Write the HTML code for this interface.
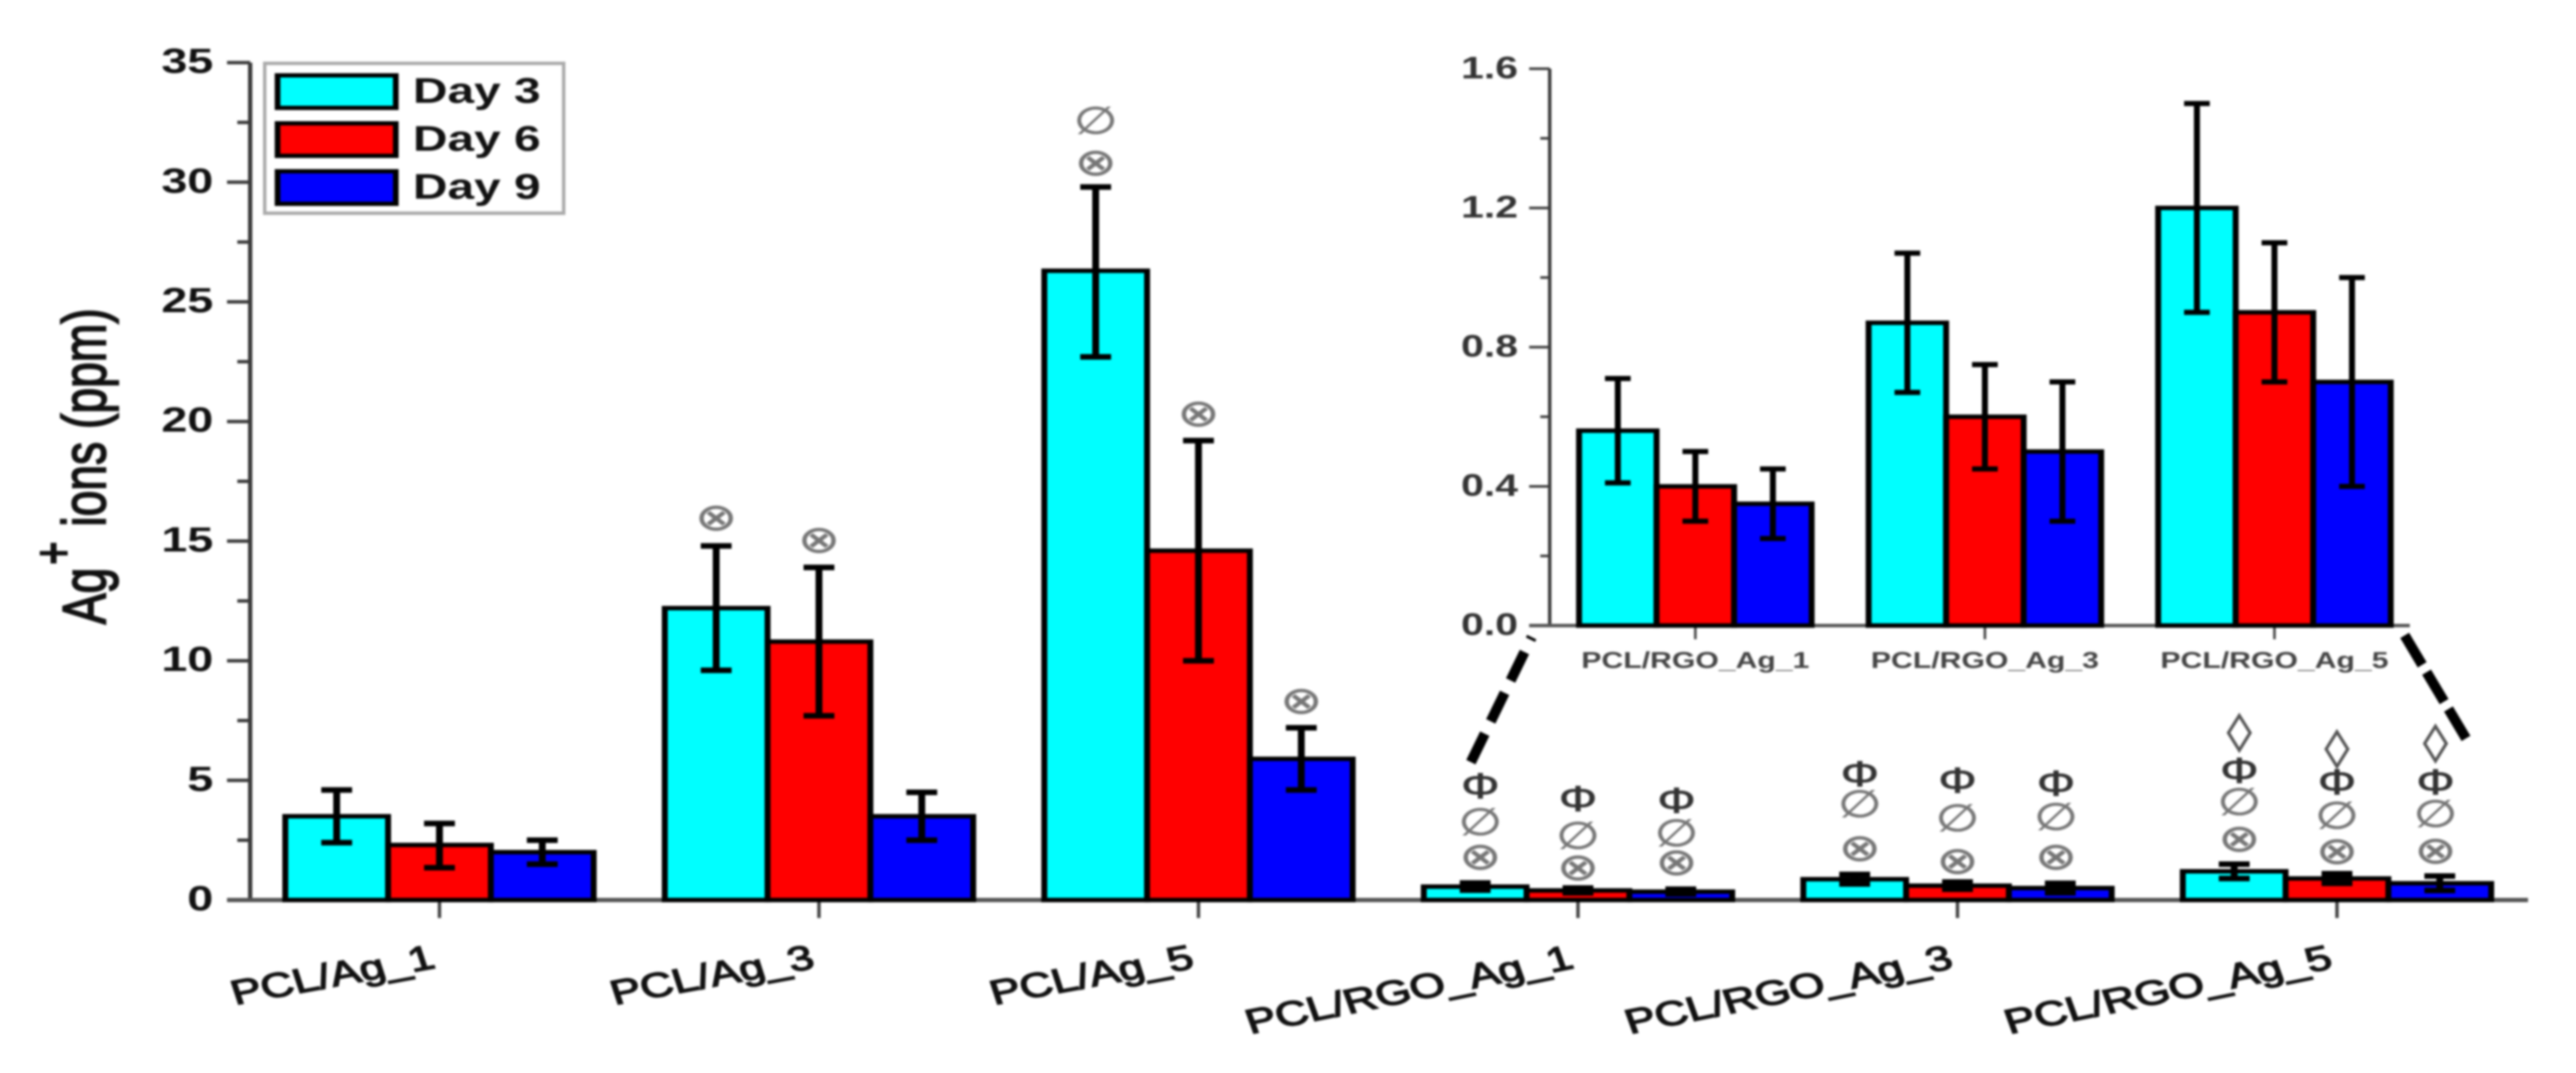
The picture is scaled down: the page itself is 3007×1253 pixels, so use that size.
<!DOCTYPE html>
<html lang="en">
<head>
<meta charset="utf-8">
<title>Ag+ ion release chart</title>
<style>
  html, body { margin: 0; padding: 0; background: #fff; }
  #chart { display: block; width: 3007px; height: 1253px; filter: blur(1.2px); }
  text { font-family: "Liberation Sans", Arial, sans-serif; }
</style>
</head>
<body>
<svg id="chart" xmlns="http://www.w3.org/2000/svg" width="3007" height="1253" viewBox="0 0 3007 1253"></svg>
<script>
// ---------- Data ----------
const seriesNames = ['Day 3', 'Day 6', 'Day 9'];
const seriesColors = ['#00ffff', '#ff0000', '#0000ff'];

const mainCategories = ['PCL/Ag_1', 'PCL/Ag_3', 'PCL/Ag_5', 'PCL/RGO_Ag_1', 'PCL/RGO_Ag_3', 'PCL/RGO_Ag_5'];
const day3Values = [3.5, 12.2, 26.3, 0.56, 0.87, 1.2];
const day6Values = [2.3, 10.8, 14.6, 0.4, 0.6, 0.9];
const day9Values = [2.0, 3.5, 5.9, 0.35, 0.5, 0.7];
const day3Upper = [4.6, 14.8, 29.8, 0.71, 1.07, 1.5];
const day3Lower = [2.4, 9.6, 22.7, 0.41, 0.67, 0.9];
const day6Upper = [3.2, 13.9, 19.2, 0.5, 0.75, 1.1];
const day6Lower = [1.35, 7.7, 10.0, 0.3, 0.45, 0.7];
const day9Upper = [2.5, 4.5, 7.2, 0.45, 0.7, 1.0];
const day9Lower = [1.5, 2.5, 4.6, 0.25, 0.3, 0.4];

const mainTickLabels = ['0', '5', '10', '15', '20', '25', '30', '35'];
const mainTickValues = [0, 5, 10, 15, 20, 25, 30, 35];
const mainMinorValues = [2.5, 7.5, 12.5, 17.5, 22.5, 27.5, 32.5];

const insetCategories = ['PCL/RGO_Ag_1', 'PCL/RGO_Ag_3', 'PCL/RGO_Ag_5'];
const insetDay3 = [0.56, 0.87, 1.2];
const insetDay6 = [0.4, 0.6, 0.9];
const insetDay9 = [0.35, 0.5, 0.7];
const insetDay3Upper = [0.71, 1.07, 1.5];
const insetDay3Lower = [0.41, 0.67, 0.9];
const insetDay6Upper = [0.5, 0.75, 1.1];
const insetDay6Lower = [0.3, 0.45, 0.7];
const insetDay9Upper = [0.45, 0.7, 1.0];
const insetDay9Lower = [0.25, 0.3, 0.4];
const insetTickLabels = ['0.0', '0.4', '0.8', '1.2', '1.6'];
const insetTickValues = [0, 0.4, 0.8, 1.2, 1.6];
const insetMinorValues = [0.2, 0.6, 1.0, 1.4];

// Significance symbols, with the ppm level each sits at: [group][series] -> per-symbol level
const sigSymbols = ['\u2297', '\u2205', '\u03A6', '\u25CA'];
const sigNames = ['otimes', 'empty-set', 'phi', 'diamond'];
const sigLevels = [
  [[], [], []],
  [[16.03], [15.1], []],
  [[30.87, 32.6], [20.37], [8.37]],
  [[1.86, 3.29, 4.8], [1.4, 2.72, 4.26], [1.63, 2.83, 4.19]],
  [[2.22, 4.04, 5.3], [1.68, 3.44, 5.03], [1.86, 3.51, 4.9]],
  [[2.61, 4.12, 5.44, 7.09], [2.09, 3.56, 4.96, 6.41], [2.11, 3.63, 4.97, 6.66]]
];

// ---------- Helpers ----------
const svg = document.getElementById('chart');
const NS = 'http://www.w3.org/2000/svg';
const STRETCH = 1.33;

function make(tag, attrs, name, parent) {
  const el = document.createElementNS(NS, tag);
  for (const k in attrs) el.setAttribute(k, attrs[k]);
  
  
  (parent || svg).appendChild(el);
  return el;
}
function line(x1, y1, x2, y2, color, width, name, parent, extra) {
  return make('line', Object.assign({ x1, y1, x2, y2, stroke: color, 'stroke-width': width }, extra || {}), name, parent);
}
// A box whose outline is wider on vertical edges than horizontal ones, as in the stretched figure
function box(x, y, w, h, fill, strokeW, name, parent) {
  return make('rect', {
    x: x / STRETCH, y: y, width: w / STRETCH, height: h,
    transform: 'scale(' + STRETCH + ' 1)',
    fill: fill, stroke: '#000', 'stroke-width': strokeW
  }, name, parent);
}
function label(str, x, y, size, name, parent, o) {
  o = o || {};
  const t = make('text', {
    transform: 'translate(' + x + ' ' + y + ') scale(' + STRETCH + ' 1) rotate(' + (o.rot || 0) + ')',
    'font-size': size,
    'font-weight': o.weight || 'bold',
    'text-anchor': o.anchor || 'start',
    fill: o.fill || '#111'
  }, name, parent);
  if (o.family) t.setAttribute('style', 'font-family:' + o.family);
  if (o.stroke) {
    t.setAttribute('stroke', o.fill || '#111');
    t.setAttribute('stroke-width', o.stroke);
  }
  t.textContent = str;
  return t;
}

function drawPanel(cfg) {
  const g = make('g', {}, cfg.name);
  const axisG = make('g', {}, cfg.name + '-axes', g);
  // Y axis
  line(cfg.axisX, cfg.y(cfg.yMax), cfg.axisX, cfg.y(0), '#3a3a3a', cfg.axisW, cfg.name + '-y-axis-line', axisG);
  cfg.tickValues.forEach(function (v, i) {
    line(cfg.axisX - cfg.majorLen, cfg.y(v), cfg.axisX, cfg.y(v), '#3a3a3a', cfg.axisW - 1, cfg.name + '-y-tick', axisG);
    label(cfg.tickLabels[i], cfg.labelX, cfg.y(v) + cfg.labelDy, cfg.labelSize, cfg.name + '-y-tick-label', axisG, { anchor: 'end', fill: cfg.labelFill });
  });
  cfg.minorValues.forEach(function (v) {
    line(cfg.axisX - cfg.minorLen, cfg.y(v), cfg.axisX, cfg.y(v), '#3a3a3a', cfg.axisW - 1, cfg.name + '-y-minor-tick', axisG);
  });
  // X axis
  line(cfg.axisX - cfg.majorLen, cfg.y(0), cfg.axisEnd, cfg.y(0), '#555', cfg.axisW, cfg.name + '-x-axis-line', axisG);
  cfg.categories.forEach(function (c, i) {
    line(cfg.center(i), cfg.y(0), cfg.center(i), cfg.y(0) + cfg.xTickLen, '#444', cfg.axisW - 1, cfg.name + '-x-tick', axisG);
    cfg.xLabel(c, i, axisG);
  });
  // Bars
  cfg.values.forEach(function (vals, s) {
    vals.forEach(function (v, i) {
      const x = cfg.center(i) + (s - 1.5) * cfg.barW;
      box(x, cfg.y(v), cfg.barW, cfg.y(0) - cfg.y(v), seriesColors[s], cfg.barStroke,
        cfg.name + '-bar-' + seriesNames[s].toLowerCase().replace(' ', '') + '-' + i, g);
    });
  });
  // Error bars
  cfg.values.forEach(function (vals, s) {
    vals.forEach(function (v, i) {
      const cx = cfg.center(i) + (s - 1) * cfg.barW;
      const yu = cfg.y(cfg.upper[s][i]);
      const yl = cfg.y(cfg.lower[s][i]);
      line(cx, yu, cx, yl, '#000', cfg.errW, cfg.name + '-error-stem', g);
      line(cx - cfg.capW / 2, yu, cx + cfg.capW / 2, yu, '#000', cfg.capT, cfg.name + '-error-cap-upper', g);
      line(cx - cfg.capW / 2, yl, cx + cfg.capW / 2, yl, '#000', cfg.capT, cfg.name + '-error-cap-lower', g);
    });
  });
  return g;
}

// ---------- Main panel ----------
function yMain(v) { return 1051 - v * 27.94; }
function xMain(i) { return 513 + i * 443; }

drawPanel({
  name: 'main-chart',
  axisX: 292, axisEnd: 2951, axisW: 5, majorLen: 27, minorLen: 15,
  y: yMain, center: xMain, yMax: 35, barW: 120, barStroke: 5.2,
  tickValues: mainTickValues, tickLabels: mainTickLabels, minorValues: mainMinorValues,
  labelX: 249, labelDy: 12, labelSize: 41, labelFill: '#111', xTickLen: 21,
  categories: mainCategories,
  values: [day3Values, day6Values, day9Values],
  upper: [day3Upper, day6Upper, day9Upper],
  lower: [day3Lower, day6Lower, day9Lower],
  errW: 8, capW: 36, capT: 6.5,
  xLabel: function (c, i, parent) {
    label(c, xMain(i) - 3, 1130, 40, 'x-tick-label', parent, { anchor: 'end', rot: i > 2 ? -15.2 : -13.8, weight: 'normal', stroke: 1.5 });
  }
});

// Significance symbols
const sigGroup = make('g', {}, 'significance-markers');
const sigSize = [44, 44, 42, 44];
const sigFill = ['#777', '#777', '#333', '#555'];
const sigStroke = [0.7, 0.7, 0.8, 0.7];
const sigFont = ['"DejaVu Sans"', '"DejaVu Sans"', '"Liberation Sans"', '"DejaVu Sans"'];
const sigNudge = [6, 0, -5];
sigLevels.forEach(function (grp, gi) {
  grp.forEach(function (levels, si) {
    levels.forEach(function (lv, k) {
      const nudge = gi >= 3 ? sigNudge[si] : 0;
      label(sigSymbols[k], xMain(gi) + (si - 1) * 120 + nudge, yMain(lv) + sigSize[k] * 0.36, sigSize[k],
        'significance-' + sigNames[k], sigGroup,
        { anchor: 'middle', weight: 'normal', fill: sigFill[k], family: sigFont[k], stroke: sigStroke[k] });
    });
  });
});

// Y axis title
const titleGroup = make('g', {}, 'y-axis-title');
label('Ag', 123, 729, 54, 'y-axis-title-ag', titleGroup, { rot: -90, weight: 'normal', stroke: 1.6 });
label('+', 84, 660, 48, 'y-axis-title-superscript', titleGroup, { rot: -90 });
label('ions (ppm)', 123, 615, 54, 'y-axis-title-ions', titleGroup, { rot: -90, weight: 'normal', stroke: 1.6 });

// Legend
const legend = make('g', {}, 'legend');
make('rect', { x: 309, y: 74, width: 349, height: 175, fill: '#fff', stroke: '#aaa', 'stroke-width': 4 }, 'legend-frame', legend);
seriesNames.forEach(function (n, i) {
  const top = 88 + i * 56;
  box(324, top, 138, 38, seriesColors[i], 5, 'legend-swatch', legend);
  label(n, 482, top + 32, 42, 'legend-entry', legend);
});

// ---------- Inset panel ----------
function yInset(v) { return 730.5 - v * 406.4; }
function xInset(i) { return 1979 + i * 338; }

drawPanel({
  name: 'inset-chart',
  axisX: 1809, axisEnd: 2813, axisW: 4, majorLen: 24, minorLen: 11,
  y: yInset, center: xInset, yMax: 1.6, barW: 90.5, barStroke: 5.2,
  tickValues: insetTickValues, tickLabels: insetTickLabels, minorValues: insetMinorValues,
  labelX: 1772, labelDy: 11, labelSize: 36, labelFill: '#333', xTickLen: 16,
  categories: insetCategories,
  values: [insetDay3, insetDay6, insetDay9],
  upper: [insetDay3Upper, insetDay6Upper, insetDay9Upper],
  lower: [insetDay3Lower, insetDay6Lower, insetDay9Lower],
  errW: 7, capW: 30, capT: 6,
  xLabel: function (c, i, parent) {
    label(c, xInset(i), 780, 26.5, 'inset-x-tick-label', parent, { anchor: 'middle', fill: '#444' });
  }
});

// Zoom guide lines
line(1717, 890, 1788, 744, '#000', 12, 'zoom-guide-left', svg, { 'stroke-dasharray': '37 16' });
line(2807, 742, 2879, 863, '#000', 12, 'zoom-guide-right', svg, { 'stroke-dasharray': '40 10' });
</script>
</body>
</html>
